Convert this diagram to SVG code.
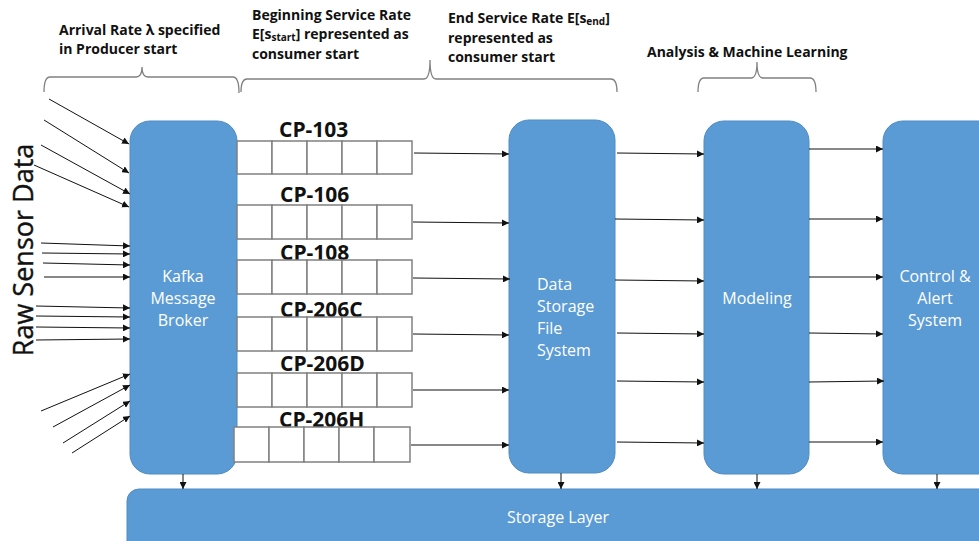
<svg xmlns="http://www.w3.org/2000/svg" width="979" height="541" viewBox="0 0 979 541">
<style>
.node{fill:#5B9BD5;stroke:#4F8CC4;stroke-width:1}
.ntext{font-family:"Open Sans","Liberation Sans",sans-serif;font-size:16px;fill:#ffffff}
.lbl{font-family:"Open Sans","Liberation Sans",sans-serif;font-size:14px;font-weight:bold;fill:#111111}
.cp{font-family:"Open Sans","Liberation Sans",sans-serif;font-size:21px;font-weight:bold;fill:#111111}
.cell{fill:#ffffff;stroke:#808080;stroke-width:1.5}
.brace{fill:none;stroke:#808080;stroke-width:1.3}
.conn line{stroke:#111111;stroke-width:1;marker-end:url(#ah)}
</style>
<defs>
<marker id="ah" viewBox="0 0 10 10" refX="10" refY="5" markerWidth="7" markerHeight="7" markerUnits="userSpaceOnUse" orient="auto">
<path d="M0,0 L10,5 L0,10 z" fill="#111111"/>
</marker>
</defs>
<rect width="979" height="541" fill="#ffffff"/>

<!-- braces and headings -->
<g id="braces">
<path class="brace" d="M44,92 Q44,77 50,77 L136,77 Q142,77 142,67 Q142,77 148,77 L233,77 Q239,77 239,93"/>
<path class="brace" d="M241,92 Q241,79 247,79 L424,79 Q430,79 430,60 Q430,79 436,79 L611,79 Q617,79 617,92"/>
<path class="brace" d="M698,92 Q698,78 704,78 L751,78 Q757,78 757,62 Q757,78 763,78 L810,78 Q816,78 816,92"/>
</g>
<g id="headings">
<text class="lbl" x="59" y="35">Arrival Rate λ specified</text>
<text class="lbl" x="59" y="54">in Producer start</text>
<text class="lbl" x="252" y="20">Beginning Service Rate</text>
<text class="lbl" x="252" y="39">E[s<tspan font-size="10" dy="2">start</tspan><tspan dy="-2">] represented as</tspan></text>
<text class="lbl" x="252" y="59">consumer start</text>
<text class="lbl" x="448" y="23">End Service Rate E[s<tspan font-size="10" dy="2">end</tspan><tspan dy="-2">]</tspan></text>
<text class="lbl" x="448" y="43">represented as</text>
<text class="lbl" x="448" y="62">consumer start</text>
<text class="lbl" x="647" y="57">Analysis &amp; Machine Learning</text>
</g>

<text id="raw-sensor-data" x="0" y="0" transform="translate(33,250) rotate(-90)" text-anchor="middle" font-family="Open Sans, Liberation Sans, sans-serif" font-size="27" fill="#111111" stroke="#111111" stroke-width="0.4">Raw Sensor Data</text>

<!-- nodes -->
<g id="kafka">
<rect class="node" x="130" y="121" width="107" height="353" rx="20"/>
<text class="ntext" text-anchor="middle"><tspan x="183" y="282">Kafka</tspan><tspan x="183" y="304">Message</tspan><tspan x="183" y="326">Broker</tspan></text>
</g>
<g id="data-storage">
<rect class="node" x="509" y="120" width="106" height="353" rx="20"/>
<text class="ntext"><tspan x="537" y="290">Data</tspan><tspan x="537" y="312">Storage</tspan><tspan x="537" y="334">File</tspan><tspan x="537" y="356">System</tspan></text>
</g>
<g id="modeling">
<rect class="node" x="704" y="121" width="105" height="353" rx="20"/>
<text class="ntext" text-anchor="middle" x="757" y="304">Modeling</text>
</g>
<g id="control-alert">
<rect class="node" x="883" y="121" width="120" height="353" rx="20"/>
<text class="ntext" text-anchor="middle"><tspan x="935" y="282">Control &amp;</tspan><tspan x="935" y="304">Alert</tspan><tspan x="935" y="326">System</tspan></text>
</g>
<g id="storage-layer">
<rect class="node" x="127" y="489" width="880" height="70" rx="12"/>
<text class="ntext" text-anchor="middle" x="558" y="523">Storage Layer</text>
</g>

<!-- queues -->
<g id="cp-103">
<text class="cp" x="279" y="137">CP-103</text>
<rect class="cell" x="237" y="141" width="35" height="33"/><rect class="cell" x="272" y="141" width="35" height="33"/><rect class="cell" x="307" y="141" width="35" height="33"/><rect class="cell" x="342" y="141" width="35" height="33"/><rect class="cell" x="377" y="141" width="35" height="33"/>
</g>
<g id="cp-106">
<text class="cp" x="280" y="202">CP-106</text>
<rect class="cell" x="237" y="205" width="35" height="34"/><rect class="cell" x="272" y="205" width="35" height="34"/><rect class="cell" x="307" y="205" width="35" height="34"/><rect class="cell" x="342" y="205" width="35" height="34"/><rect class="cell" x="377" y="205" width="35" height="34"/>
</g>
<g id="cp-108">
<text class="cp" x="280" y="260">CP-108</text>
<rect class="cell" x="237" y="260" width="35" height="34"/><rect class="cell" x="272" y="260" width="35" height="34"/><rect class="cell" x="307" y="260" width="35" height="34"/><rect class="cell" x="342" y="260" width="35" height="34"/><rect class="cell" x="377" y="260" width="35" height="34"/>
</g>
<g id="cp-206c">
<text class="cp" x="280" y="317">CP-206C</text>
<rect class="cell" x="237" y="317" width="35" height="34"/><rect class="cell" x="272" y="317" width="35" height="34"/><rect class="cell" x="307" y="317" width="35" height="34"/><rect class="cell" x="342" y="317" width="35" height="34"/><rect class="cell" x="377" y="317" width="35" height="34"/>
</g>
<g id="cp-206d">
<text class="cp" x="280" y="371">CP-206D</text>
<rect class="cell" x="237" y="373" width="35" height="34"/><rect class="cell" x="272" y="373" width="35" height="34"/><rect class="cell" x="307" y="373" width="35" height="34"/><rect class="cell" x="342" y="373" width="35" height="34"/><rect class="cell" x="377" y="373" width="35" height="34"/>
</g>
<g id="cp-206h">
<text class="cp" x="279" y="427">CP-206H</text>
<rect class="cell" x="234" y="427" width="35" height="35"/><rect class="cell" x="269" y="427" width="35" height="35"/><rect class="cell" x="304" y="427" width="35" height="35"/><rect class="cell" x="339" y="427" width="35" height="35"/><rect class="cell" x="374" y="427" width="36" height="35"/>
</g>

<!-- connectors -->
<g id="connectors" class="conn">
<line x1="49" y1="99" x2="129" y2="144"/>
<line x1="44" y1="120" x2="129" y2="173"/>
<line x1="41" y1="145" x2="130" y2="194"/>
<line x1="34" y1="165" x2="129" y2="207"/>
<line x1="41" y1="243" x2="130" y2="246"/>
<line x1="42" y1="253" x2="130" y2="254"/>
<line x1="43" y1="263" x2="130" y2="265"/>
<line x1="44" y1="277" x2="130" y2="277"/>
<line x1="36" y1="306" x2="130" y2="308"/>
<line x1="36" y1="316" x2="130" y2="317"/>
<line x1="36" y1="327" x2="130" y2="328"/>
<line x1="36" y1="340" x2="130" y2="339"/>
<line x1="41" y1="411" x2="130" y2="374"/>
<line x1="53" y1="427" x2="130" y2="385"/>
<line x1="63" y1="443" x2="130" y2="401"/>
<line x1="72" y1="453" x2="130" y2="416"/>

<line x1="414" y1="153" x2="509" y2="154"/>
<line x1="413" y1="222" x2="509" y2="223"/>
<line x1="413" y1="278" x2="510" y2="279"/>
<line x1="413" y1="334" x2="509" y2="335"/>
<line x1="413" y1="390" x2="509" y2="390"/>
<line x1="411" y1="445" x2="509" y2="445"/>

<line x1="617" y1="153" x2="704" y2="154"/>
<line x1="615" y1="219" x2="704" y2="220"/>
<line x1="615" y1="280" x2="704" y2="281"/>
<line x1="617" y1="333" x2="704" y2="334"/>
<line x1="617" y1="381" x2="704" y2="382"/>
<line x1="617" y1="442" x2="704" y2="443"/>

<line x1="809" y1="149" x2="883" y2="149"/>
<line x1="809" y1="219" x2="883" y2="219"/>
<line x1="809" y1="277" x2="883" y2="277"/>
<line x1="809" y1="333" x2="883" y2="334"/>
<line x1="809" y1="382" x2="884" y2="381"/>
<line x1="809" y1="442" x2="883" y2="442"/>

<line x1="183" y1="474" x2="183" y2="489"/>
<line x1="561" y1="473" x2="561" y2="489"/>
<line x1="757" y1="474" x2="757" y2="489"/>
<line x1="937" y1="474" x2="937" y2="489"/>
</g>
</svg>
